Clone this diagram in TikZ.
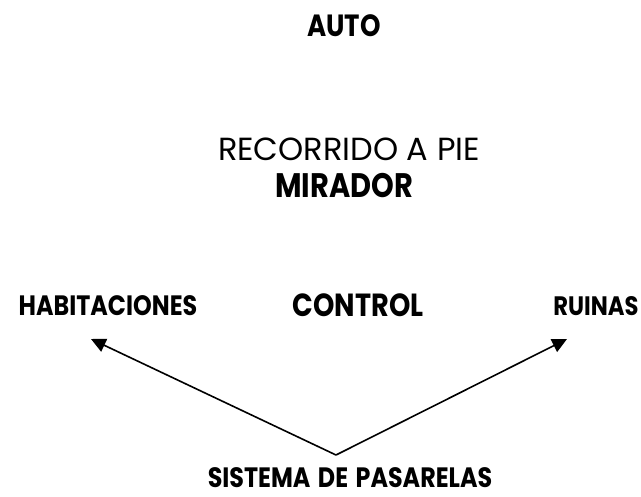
\documentclass[tikz,border=0pt]{standalone}
\usepackage{fontspec}
\setmainfont{Poppins}[BoldFeatures={FakeStretch=0.85,WordSpace=1.5}]
\usetikzlibrary{arrows.meta}

\tikzset{
  lbl/.style={inner sep=0pt, anchor=base},
  walk/.style={line width=1.2pt, -{Triangle[length=11pt,width=10.5pt]}}
}

\begin{document}
\begin{tikzpicture}[x=0.75pt,y=-0.75pt]
\useasboundingbox (0,0) rectangle (641,496);

% upper route
\node[lbl, font=\fontsize{23}{27}\selectfont\bfseries] (auto) at (344,36) {AUTO};
\node[lbl, font=\fontsize{24}{28}\selectfont] (walkin) at (349,160) {RECORRIDO A PIE};
\node[lbl, font=\fontsize{25.5}{30}\selectfont\bfseries] (mirador) at (344,197) {MIRADOR};

% middle row
\node[lbl, font=\fontsize{21}{25}\selectfont\bfseries] (hab) at (108,315) {HABITACIONES};
\node[lbl, font=\fontsize{24}{28}\selectfont\bfseries] (control) at (358,316) {CONTROL};
\node[lbl, font=\fontsize{20}{24}\selectfont\bfseries] (ruinas) at (596,315) {RUINAS};

% walkways
\node[lbl, font=\fontsize{21}{25}\selectfont\bfseries] (pasarelas) at (350,487) {SISTEMA DE PASARELAS};
\coordinate (apex) at (336,455);
\coordinate (tiphab) at (91,339);
\coordinate (tipruin) at (567,339);

\draw[walk] (apex) -- (tiphab);
\draw[walk] (apex) -- (tipruin);
\end{tikzpicture}
\end{document}
